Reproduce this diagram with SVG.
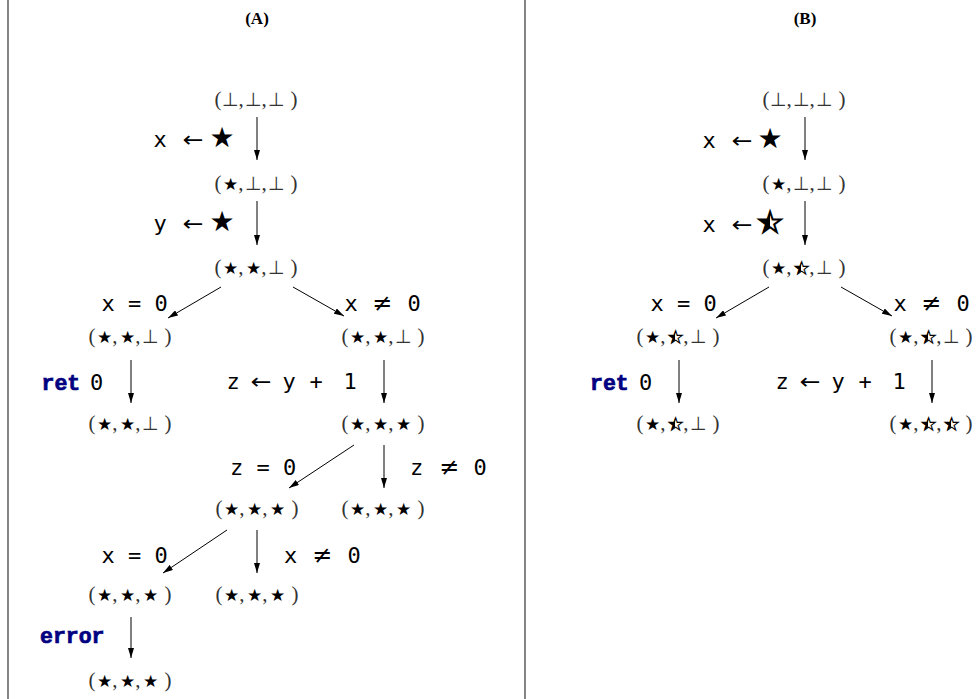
<svg xmlns="http://www.w3.org/2000/svg" xmlns:xlink="http://www.w3.org/1999/xlink" width="977" height="699" viewBox="0 0 977 699">
  <style>
    .code{font-family:"DejaVu Sans Mono",monospace;font-size:22px;fill:#000}
    .kw{font-family:"Liberation Mono",monospace;font-weight:bold;font-size:21.5px;fill:#000080;stroke:#000080;stroke-width:0.7}
    .sym{font-family:"DejaVu Sans",sans-serif;font-size:24px;fill:#000}
    .arr{font-family:"DejaVu Sans",sans-serif;font-size:22px;fill:#000}
    .big{font-family:"DejaVu Sans",sans-serif;font-size:28px;fill:#000}
    .tp{font-family:"Liberation Serif",serif;font-size:21px;fill:#333}
    .bot{font-family:"DejaVu Sans",sans-serif;font-size:19px;fill:#333}
    .ss{font-family:"DejaVu Sans",sans-serif;font-size:17px;fill:#000}
    .hs{fill:#fff;stroke:#000;stroke-width:1.1}
    .hb{stroke:#000;stroke-width:2;fill:#fff}
    .title{font-family:"Liberation Serif",serif;font-weight:bold;font-size:17px;text-anchor:middle;fill:#000}
    .edge{stroke:#000;stroke-width:1;fill:none;marker-end:url(#ah)}
    .rule{stroke:#333;stroke-width:1.2}
    .mid{text-anchor:middle}
  </style>
  <defs>
    <marker id="ah" viewBox="0 0 10 6" refX="10" refY="3" markerWidth="10" markerHeight="6" markerUnits="userSpaceOnUse" orient="auto">
      <path d="M0,0 L10,3 L0,6 z" fill="#000"/>
    </marker>
    <!-- left half of a glyph centred on x=0 -->
    <clipPath id="leftHalf" clipPathUnits="userSpaceOnUse">
      <rect x="-40" y="-60" width="40" height="80"/>
    </clipPath>
    <!-- small half-filled star used inside tuples -->
    <g id="halfSmall">
      <text class="ss mid" clip-path="url(#leftHalf)">★</text>
    </g>
    <!-- large half-filled star used in assignments -->
    <g id="halfBig">
      <text class="big mid" clip-path="url(#leftHalf)">★</text>
    </g>
  </defs>

  <!-- panel separators -->
  <line class="rule" x1="8" y1="0" x2="8" y2="699"/>
  <line class="rule" x1="525" y1="0" x2="525" y2="699"/>

  <text class="title" x="257" y="24">(A)</text>
  <text class="title" x="805" y="24">(B)</text>

  <!-- ===== panel A states ===== -->
  <g id="a0" transform="translate(256,106)">
    <text class="tp"><tspan x="-41.5">(</tspan><tspan class="bot" x="-34">⊥</tspan><tspan>,</tspan><tspan class="bot" x="-11">⊥</tspan><tspan>,</tspan><tspan class="bot" x="12">⊥</tspan><tspan x="34.5">)</tspan></text>
  </g>
  <g id="a1" transform="translate(256,190)">
    <text class="tp"><tspan x="-41.5">(</tspan><tspan class="ss" x="-33.1">★</tspan><tspan>,</tspan><tspan class="bot" x="-11">⊥</tspan><tspan>,</tspan><tspan class="bot" x="12">⊥</tspan><tspan x="34.5">)</tspan></text>
  </g>
  <g id="a2" transform="translate(256,274)">
    <text class="tp"><tspan x="-41.5">(</tspan><tspan class="ss" x="-33.1">★</tspan><tspan>,</tspan><tspan class="ss" x="-10.1">★</tspan><tspan>,</tspan><tspan class="bot" x="12">⊥</tspan><tspan x="34.5">)</tspan></text>
  </g>
  <g id="a3" transform="translate(130,343)">
    <text class="tp"><tspan x="-41.5">(</tspan><tspan class="ss" x="-33.1">★</tspan><tspan>,</tspan><tspan class="ss" x="-10.1">★</tspan><tspan>,</tspan><tspan class="bot" x="12">⊥</tspan><tspan x="34.5">)</tspan></text>
  </g>
  <g id="a4" transform="translate(383,343)">
    <text class="tp"><tspan x="-41.5">(</tspan><tspan class="ss" x="-33.1">★</tspan><tspan>,</tspan><tspan class="ss" x="-10.1">★</tspan><tspan>,</tspan><tspan class="bot" x="12">⊥</tspan><tspan x="34.5">)</tspan></text>
  </g>
  <g id="a5" transform="translate(130,430)">
    <text class="tp"><tspan x="-41.5">(</tspan><tspan class="ss" x="-33.1">★</tspan><tspan>,</tspan><tspan class="ss" x="-10.1">★</tspan><tspan>,</tspan><tspan class="bot" x="12">⊥</tspan><tspan x="34.5">)</tspan></text>
  </g>
  <g id="a6" transform="translate(383,430)">
    <text class="tp"><tspan x="-41.5">(</tspan><tspan class="ss" x="-33.1">★</tspan><tspan>,</tspan><tspan class="ss" x="-10.1">★</tspan><tspan>,</tspan><tspan class="ss" x="12.9">★</tspan><tspan x="34.5">)</tspan></text>
  </g>
  <g id="a7" transform="translate(257,515)">
    <text class="tp"><tspan x="-41.5">(</tspan><tspan class="ss" x="-33.1">★</tspan><tspan>,</tspan><tspan class="ss" x="-10.1">★</tspan><tspan>,</tspan><tspan class="ss" x="12.9">★</tspan><tspan x="34.5">)</tspan></text>
  </g>
  <g id="a8" transform="translate(383,515)">
    <text class="tp"><tspan x="-41.5">(</tspan><tspan class="ss" x="-33.1">★</tspan><tspan>,</tspan><tspan class="ss" x="-10.1">★</tspan><tspan>,</tspan><tspan class="ss" x="12.9">★</tspan><tspan x="34.5">)</tspan></text>
  </g>
  <g id="a9" transform="translate(130,601)">
    <text class="tp"><tspan x="-41.5">(</tspan><tspan class="ss" x="-33.1">★</tspan><tspan>,</tspan><tspan class="ss" x="-10.1">★</tspan><tspan>,</tspan><tspan class="ss" x="12.9">★</tspan><tspan x="34.5">)</tspan></text>
  </g>
  <g id="a10" transform="translate(257,601)">
    <text class="tp"><tspan x="-41.5">(</tspan><tspan class="ss" x="-33.1">★</tspan><tspan>,</tspan><tspan class="ss" x="-10.1">★</tspan><tspan>,</tspan><tspan class="ss" x="12.9">★</tspan><tspan x="34.5">)</tspan></text>
  </g>
  <g id="a11" transform="translate(130,687)">
    <text class="tp"><tspan x="-41.5">(</tspan><tspan class="ss" x="-33.1">★</tspan><tspan>,</tspan><tspan class="ss" x="-10.1">★</tspan><tspan>,</tspan><tspan class="ss" x="12.9">★</tspan><tspan x="34.5">)</tspan></text>
  </g>

  <!-- ===== panel B states ===== -->
  <g id="b0" transform="translate(804,106)">
    <text class="tp"><tspan x="-41.5">(</tspan><tspan class="bot" x="-34">⊥</tspan><tspan>,</tspan><tspan class="bot" x="-11">⊥</tspan><tspan>,</tspan><tspan class="bot" x="12">⊥</tspan><tspan x="34.5">)</tspan></text>
  </g>
  <g id="b1" transform="translate(804,190)">
    <text class="tp"><tspan x="-41.5">(</tspan><tspan class="ss" x="-33.1">★</tspan><tspan>,</tspan><tspan class="bot" x="-11">⊥</tspan><tspan>,</tspan><tspan class="bot" x="12">⊥</tspan><tspan x="34.5">)</tspan></text>
  </g>
  <g id="b2" transform="translate(804,274)">
    <text class="tp"><tspan x="-41.5">(</tspan><tspan class="ss" x="-33.1">★</tspan><tspan>,</tspan><tspan class="ss hs" x="-10.1">★</tspan><tspan>,</tspan><tspan class="bot" x="12">⊥</tspan><tspan x="34.5">)</tspan></text>
    <use href="#halfSmall" x="-3"/>
  </g>
  <g id="b3" transform="translate(678,343)">
    <text class="tp"><tspan x="-41.5">(</tspan><tspan class="ss" x="-33.1">★</tspan><tspan>,</tspan><tspan class="ss hs" x="-10.1">★</tspan><tspan>,</tspan><tspan class="bot" x="12">⊥</tspan><tspan x="34.5">)</tspan></text>
    <use href="#halfSmall" x="-3"/>
  </g>
  <g id="b4" transform="translate(931,343)">
    <text class="tp"><tspan x="-41.5">(</tspan><tspan class="ss" x="-33.1">★</tspan><tspan>,</tspan><tspan class="ss hs" x="-10.1">★</tspan><tspan>,</tspan><tspan class="bot" x="12">⊥</tspan><tspan x="34.5">)</tspan></text>
    <use href="#halfSmall" x="-3"/>
  </g>
  <g id="b5" transform="translate(678,430)">
    <text class="tp"><tspan x="-41.5">(</tspan><tspan class="ss" x="-33.1">★</tspan><tspan>,</tspan><tspan class="ss hs" x="-10.1">★</tspan><tspan>,</tspan><tspan class="bot" x="12">⊥</tspan><tspan x="34.5">)</tspan></text>
    <use href="#halfSmall" x="-3"/>
  </g>
  <g id="b6" transform="translate(931,430)">
    <text class="tp"><tspan x="-41.5">(</tspan><tspan class="ss" x="-33.1">★</tspan><tspan>,</tspan><tspan class="ss hs" x="-10.1">★</tspan><tspan>,</tspan><tspan class="ss hs" x="12.9">★</tspan><tspan x="34.5">)</tspan></text>
    <use href="#halfSmall" x="-3"/>
    <use href="#halfSmall" x="20"/>
  </g>

  <!-- ===== transitions ===== -->
  <g id="connectors">
    <line class="edge" x1="257" y1="117" x2="257" y2="160"/>
    <line class="edge" x1="257" y1="201" x2="257" y2="245"/>
    <line class="edge" x1="221" y1="287" x2="168" y2="318"/>
    <line class="edge" x1="293" y1="287" x2="344" y2="316"/>
    <line class="edge" x1="131" y1="360" x2="131" y2="403"/>
    <line class="edge" x1="384" y1="360" x2="384" y2="403"/>
    <line class="edge" x1="354" y1="445" x2="289" y2="488"/>
    <line class="edge" x1="384" y1="445" x2="384" y2="488"/>
    <line class="edge" x1="227" y1="530" x2="163" y2="573"/>
    <line class="edge" x1="257" y1="530" x2="257" y2="573"/>
    <line class="edge" x1="131" y1="617" x2="131" y2="658"/>

    <line class="edge" x1="805" y1="117" x2="805" y2="160"/>
    <line class="edge" x1="805" y1="201" x2="805" y2="245"/>
    <line class="edge" x1="769" y1="287" x2="716" y2="318"/>
    <line class="edge" x1="841" y1="287" x2="892" y2="316"/>
    <line class="edge" x1="679" y1="360" x2="679" y2="403"/>
    <line class="edge" x1="932" y1="360" x2="932" y2="403"/>
  </g>

  <!-- ===== transition labels ===== -->
  <g id="labels">
    <!-- panel A -->
    <text class="code mid" y="147"><tspan x="160">x</tspan><tspan class="arr" x="193" textLength="21" lengthAdjust="spacingAndGlyphs">←</tspan><tspan class="big" x="222">★</tspan></text>
    <text class="code mid" y="231"><tspan x="160">y</tspan><tspan class="arr" x="193" textLength="21" lengthAdjust="spacingAndGlyphs">←</tspan><tspan class="big" x="222">★</tspan></text>
    <text class="code" x="101.5" y="311" xml:space="preserve">x = 0</text>
    <text class="code mid" y="311"><tspan x="351">x</tspan><tspan class="sym" x="382">≠</tspan><tspan x="414">0</tspan></text>
    <text class="code" y="390"><tspan class="kw" x="41.5">ret</tspan><tspan class="mid" x="96.7">0</tspan></text>
    <text class="code mid" y="389"><tspan x="233">z</tspan><tspan class="arr" x="261" textLength="21" lengthAdjust="spacingAndGlyphs">←</tspan><tspan x="289">y</tspan><tspan x="316">+</tspan><tspan x="350">1</tspan></text>
    <text class="code" x="230" y="475" xml:space="preserve">z = 0</text>
    <text class="code mid" y="475"><tspan x="416.7">z</tspan><tspan class="sym" x="449">≠</tspan><tspan x="480">0</tspan></text>
    <text class="code" x="101.5" y="563" xml:space="preserve">x = 0</text>
    <text class="code mid" y="563"><tspan x="290.5">x</tspan><tspan class="sym" x="322">≠</tspan><tspan x="354">0</tspan></text>
    <text class="kw" x="40" y="643">error</text>

    <!-- panel B -->
    <text class="code mid" y="148"><tspan x="709">x</tspan><tspan class="arr" x="742" textLength="21" lengthAdjust="spacingAndGlyphs">←</tspan><tspan class="big" x="770">★</tspan></text>
    <text class="code mid" y="232"><tspan x="709">x</tspan><tspan class="arr" x="742" textLength="21" lengthAdjust="spacingAndGlyphs">←</tspan><tspan class="big hb" x="770">★</tspan></text>
    <use href="#halfBig" x="770" y="232"/>
    <text class="code" x="650.5" y="311" xml:space="preserve">x = 0</text>
    <text class="code mid" y="311"><tspan x="900">x</tspan><tspan class="sym" x="931">≠</tspan><tspan x="963">0</tspan></text>
    <text class="code" y="390"><tspan class="kw" x="590">ret</tspan><tspan class="mid" x="645.7">0</tspan></text>
    <text class="code mid" y="389"><tspan x="782">z</tspan><tspan class="arr" x="810" textLength="21" lengthAdjust="spacingAndGlyphs">←</tspan><tspan x="838">y</tspan><tspan x="865">+</tspan><tspan x="899">1</tspan></text>
  </g>
</svg>
